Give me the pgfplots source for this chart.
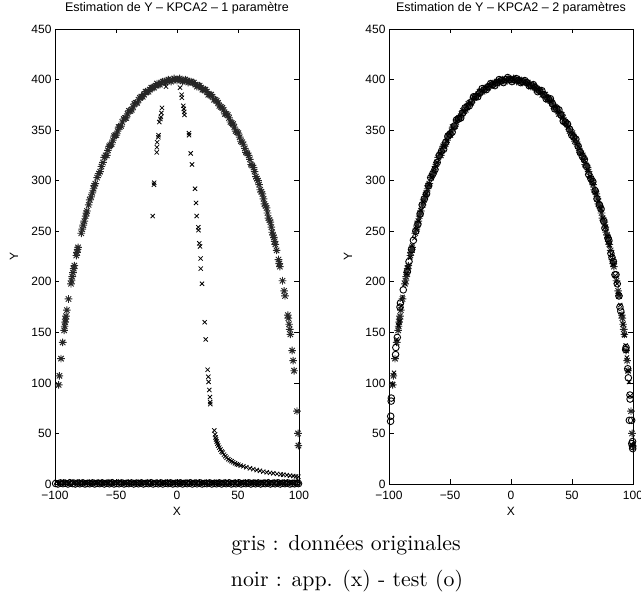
\documentclass[border=0pt]{standalone}
\usepackage{fontspec}
\usepackage{pgfplots}
\pgfplotsset{compat=1.18}
\usepackage{pgfplotstable}
\newfontfamily\hv{Liberation Sans}
\pgfdeclareplotmark{mstar}{%
 \pgfpathmoveto{\pgfqpoint{-\pgfplotmarksize}{0pt}}\pgfpathlineto{\pgfqpoint{\pgfplotmarksize}{0pt}}%
 \pgfpathmoveto{\pgfqpoint{0pt}{-\pgfplotmarksize}}\pgfpathlineto{\pgfqpoint{0pt}{\pgfplotmarksize}}%
 \pgfpathmoveto{\pgfqpoint{-.707\pgfplotmarksize}{-.707\pgfplotmarksize}}\pgfpathlineto{\pgfqpoint{.707\pgfplotmarksize}{.707\pgfplotmarksize}}%
 \pgfpathmoveto{\pgfqpoint{-.707\pgfplotmarksize}{.707\pgfplotmarksize}}\pgfpathlineto{\pgfqpoint{.707\pgfplotmarksize}{-.707\pgfplotmarksize}}%
 \pgfusepathqstroke}

\pgfplotstableread{
X Y
-96.95 98
-96.36 107
-95.07 124
-93.67 140
-92.50 152
-92.08 156
-91.65 160
-91.32 163
-90.98 166
-90.28 172
-88.92 183
-86.89 198
-86.46 201
-85.87 205
-85.26 209
-84.64 213
-84.17 216
-82.51 226
-81.99 229
-81.46 232
-81.10 234
-78.46 248
-77.66 252
-76.84 256
-75.99 260
-74.91 265
-74.24 268
-73.8 270
-72.38 276
-71.5 281
-70.42 284
-69.40 288
-68.34 292
-67.8 295
-66.98 297
-65.5 303
-64.10 307
-63.0 309
-61.95 314
-60.66 318
-59.6 323
-58.5 325
-57.5 325
-56.6 330
-55.6 334
-54.7 335
-53.6 336
-52.5 340
-51.5 344
-50.6 345
-49.7 345
-48.7 349
-47.8 353
-46.9 353
-45.9 354
-44.8 358
-43.7 361
-42.6 362
-41.6 362
-40.5 366
-39.4 369
-38.3 369
-37.1 370
-36.0 373
-34.9 376
-33.8 377
-32.6 377
-31.5 380
-30.4 382
-29.2 383
-28.1 383
-27.0 385
-25.8 388
-24.6 388
-23.4 388
-22.3 390
-21.1 392
-20.0 392
-18.8 392
-17.6 394
-16.4 396
-15.3 395
-14.1 395
-13.0 397
-11.8 398
-10.6 398
-9.4 397
-8.3 399
-7.1 400
-6.0 399
-4.8 398
-3.6 400
-2.4 401
-1.3 400
0.0 399
1.0 400
2.2 401
3.3 400
4.5 398
5.7 399
6.8 400
8.0 399
9.2 397
10.4 398
11.5 398
12.7 397
13.9 397
15.1 395
16.3 393
17.4 394
18.6 394
19.8 392
20.9 390
22.1 390
23.3 390
24.5 388
25.6 385
26.8 385
28.0 385
29.1 383
30.3 380
31.5 380
32.6 379
33.7 377
34.8 374
36.0 373
37.1 372
38.2 370
39.3 366
40.5 366
41.6 365
42.7 362
43.8 358
44.9 357
46.0 356
47.0 353
48.1 349
49.2 348
50.3 347
51.4 343
52.4 339
53.5 338
54.5 336
55.6 332
56.6 328
57.6 327
58.7 325
59.7 321
60.7 316
61.7 315
62.7 313
63.6 309
64.6 304
65.5 302
66.4 300
67.3 296
68.2 291
69.1 289
70.0 287
70.9 282
71.7 277
72.6 275
73.4 273
74.2 268
75.0 263
75.8 261
76.5 259
77.3 254
78.0 249
78.8 246
79.4 244
80.00 240
80.56 237
81.64 231
83.19 222
83.84 218
84.33 215
86.46 201
87.86 191
88.53 186
90.87 167
91.21 164
91.87 158
92.40 153
92.90 148
94.40 132
95.23 122
96.00 112
98.37 72
99.22 50
99.55 38
}\starsdata

\pgfplotstableread{
X Y
-19.9 265
-18.9 296
-18.7 298
-16.6 328
-16.5 333
-16.3 338
-15.3 343
-15.1 345
-14.5 358
-13.6 361
-13.2 363
-12.8 367
-12.3 372
-9.0 393
2.5 392
3.8 385
4.0 382
5.2 374
5.6 371
5.9 368
6.1 365
9.8 347
9.9 345
11.2 327
12.3 316
14.8 292
15.6 278
16.1 265
17.5 254
17.6 251
18.3 238
18.9 235
19.4 223
19.5 213
20.5 198
22.7 160
23.5 143
25.1 113
25.7 106
25.9 101
26.5 93
27.0 86
27.2 81
27.3 79
30.6 53
31.2 49
31.6 46
32.0 44
32.6 42
33.2 40
33.8 38
34.7 36
35.6 34
36.6 32
37.5 31
38.5 29
39.6 27.5
40.7 26
42.0 24.5
43.4 23.5
44.7 22.5
46.0 21.5
47.5 20.5
49.0 19.5
50.3 19
52.3 18.2
54.4 17.5
56.8 16.6
59.8 15.5
62.5 14.7
65.3 13.8
68.0 13
70.7 12.2
73.5 11.6
76.2 11
78.9 10.6
82.0 10
85.0 9.5
87.1 9.2
90.0 8.8
92.7 8.3
95.3 7.9
97.5 7.5
99.5 7.2
}\leftapp

\pgfplotstableread{
X Y
-96.9 99
-95.9 110
-93.6 143
-92.2 157
-91.3 161
-90.0 176
-88.9 185
-87.0 198
-85.6 208
-84.3 214
-82.6 224
-80.9 236
-79.2 243
-77.5 252
-75.7 260
-73.9 271
-71.8 279
-69.6 287
-67.4 296
-65.1 303
-62.8 312
-60.4 318
-57.9 327
-55.3 334
-52.7 339
-50.0 347
-47.3 352
-44.5 359
-41.7 364
-38.8 368
-35.9 374
-32.9 377
-29.9 382
-26.9 385
-23.8 389
-20.7 391
-17.6 394
-14.4 396
-11.3 398
-8.1 399
-4.9 400
-1.7 401
1.5 400
4.7 399
7.9 399
11.1 397
14.3 396
17.5 393
20.6 392
23.7 389
26.8 386
29.8 381
32.8 378
35.8 373
38.7 368
41.6 363
44.4 358
47.2 353
49.9 346
52.6 341
55.2 334
57.8 327
60.3 320
62.7 311
65.0 304
67.2 297
69.4 288
71.5 280
73.5 272
75.4 263
77.3 254
79.1 245
80.8 236
82.4 227
84.0 217
85.5 206
86.9 198
88.2 188
89.5 177
90.7 168
91.9 158
93.0 147
94.0 137
95.0 125
95.9 112
96.8 101
97.6 87
}\rightapp

\pgfplotstableread{
X Y
-98.7 62
-98.6 67
-98.2 82
-98.1 85
-94.6 128
-94.4 135
-93.2 145
-91.0 175
-90.6 179
-88.3 192
-85.0 210
-83.6 220
-81.5 232
-80.0 241
-78.0 250
-76.3 257
-74.5 267
-72.8 276
-71.0 282
-69.2 287
-67.5 295
-65.8 303
-64.0 307
-62.3 311
-60.5 318
-58.8 325
-57.0 329
-55.2 331
-53.5 338
-51.7 344
-50.0 346
-48.2 348
-46.5 354
-44.7 360
-43.0 361
-41.2 362
-39.5 367
-37.7 372
-36.0 373
-34.2 374
-32.5 378
-30.7 383
-29.0 383
-27.2 383
-25.5 387
-23.7 391
-22.0 390
-20.2 390
-18.5 393
-16.7 396
-15.0 395
-13.2 394
-11.5 397
-9.7 400
-8.0 399
-6.2 397
-4.5 400
-2.7 402
-1.0 400
0.8 398
2.5 400
4.3 401
6.0 399
7.8 397
9.5 398
11.3 399
13.0 397
14.8 394
16.5 394
18.3 395
20.0 392
21.8 388
23.5 389
25.3 389
27.0 385
28.8 381
30.5 381
32.3 381
34.0 376
35.8 371
37.5 371
39.3 370
41.0 365
42.8 359
44.5 358
46.3 356
48.0 351
49.8 345
51.5 343
53.2 341
55.0 334
56.7 328
58.5 324
60.2 321
62.0 314
63.7 306
65.5 302
67.1 299
69.0 290
70.5 282
72.5 276
73.8 272
76.0 260
77.0 253
79.5 243
80.2 241
81.9 228
82.8 224
83.9 220
85.2 207
86.1 207
87.1 198
88.5 186
89.3 175
90.0 171
94.0 133
94.3 135
95.7 114
96.2 105
97.0 63
97.5 88
97.6 84
98.9 63
99.0 40
99.7 37
99.75 35
99.65 42
}\righttest

\begin{document}
\begin{tikzpicture}
\pgfplotsset{mstyle/.style={
  scale only axis, width=244pt, height=455pt,
  xmin=-100, xmax=100, ymin=0, ymax=450,
  clip=false,
  tick align=inside, major tick length=4.5pt,
  axis line style={line width=0.6pt},
  every tick/.style={line width=0.6pt, black},
  xtick={-100,-50,0,50,100},
  xticklabels={−100,−50,0,50,100},
  ytick={0,50,100,150,200,250,300,350,400,450},
  yticklabels={0,50,100,150,200,250,300,350,400,450},
  tick label style={font=\hv\fontsize{12}{14}\selectfont},
  xticklabel style={yshift=-4pt},
  ylabel style={font=\hv\fontsize{12}{14}\selectfont, at={(axis description cs:-0.168,0.5)}, anchor=center},
  xlabel style={font=\hv\fontsize{12}{14}\selectfont, at={(axis description cs:0.5,-0.0593)}, anchor=center},
  title style={font=\hv\fontsize{12.5}{15}\selectfont, at={(axis description cs:0.5,1)}, anchor=base, yshift=11.7pt},
  xlabel={X}, ylabel={Y},
  starst/.style={only marks, mark=mstar, mark size=3.8pt, black!85, line width=0.95pt},
  appst/.style={only marks, mark=x, mark size=3pt, black, line width=0.8pt},
  testst/.style={only marks, mark=o, mark size=3.3pt, black, line width=0.9pt},
}}
\begin{axis}[mstyle, at={(55pt,121pt)}, anchor=south west,
  title={Estimation de Y – KPCA2 – 1 paramètre}]
\addplot[starst] table {\starsdata};
\addplot[appst] table {\leftapp};
\addplot[testst] coordinates {(-99.5,0.5) (-97.6,0) (-95.4,1) (-93.5,0.3) (-91.6,0.8) (-89.4,0) (-87.5,1.1) (-85.6,0.4) (-83.4,0) (-81.5,0.9) (-79.6,0.2) (-77.5,1) (-75.4,0) (-73.6,0.6) (-71.5,0.2) (-69.4,1) (-67.5,0) (-65.6,0.7) (-63.4,0.3) (-61.5,1) (-59.6,0) (-57.5,0.8) (-55.4,0.2) (-53.5,1.1) (-51.6,0) (-49.4,0.6) (-47.5,0.2) (-45.6,1) (-43.4,0) (-41.5,0.7) (-39.6,0.3) (-37.5,1) (-35.4,0) (-33.5,0.8) (-31.6,0.2) (-29.4,1) (-27.5,0) (-25.6,0.6) (-23.4,0.3) (-21.5,1.1) (-19.6,0) (-17.5,0.7) (-15.4,0.2) (-13.5,1) (-11.6,0) (-9.4,0.8) (-7.5,0.3) (-5.6,1) (-3.4,0) (-1.5,0.6) (0.4,0.2) (2.5,1) (4.6,0) (6.5,0.7) (8.4,0.3) (10.5,1) (12.6,0) (14.5,0.8) (16.4,0.2) (18.5,1.1) (20.6,0) (22.5,0.6) (24.4,0.3) (26.5,1) (28.6,0) (30.5,0.7) (32.4,0.2) (34.5,1) (36.6,0) (38.5,0.8) (40.4,0.3) (42.5,1) (44.6,0) (46.5,0.6) (48.4,0.2) (50.5,1.1) (52.6,0) (54.5,0.7) (56.4,0.3) (58.5,1) (60.6,0) (62.5,0.8) (64.4,0.2) (66.5,1) (68.6,0) (70.5,0.6) (72.4,0.3) (74.5,1) (76.6,0) (78.5,0.7) (80.4,0.2) (82.5,1.1) (84.6,0) (86.5,0.8) (88.4,0.3) (90.5,1) (92.6,0) (94.5,0.6) (96.4,0.2) (98.5,1) (99.6,0.4)};
\addplot[appst] coordinates {(-98.6,2) (-96.5,1.5) (-94.4,2.5) (-92.5,1.8) (-90.4,2.2) (-88.5,1.4) (-86.6,2.6) (-84.4,1.9) (-82.5,2.3) (-80.6,1.5) (-78.4,2.4) (-76.5,1.7) (-74.6,2.1) (-72.4,1.4) (-70.5,2.5) (-68.6,1.8) (-66.4,2.2) (-64.5,1.6) (-62.6,2.4) (-60.4,1.9) (-58.5,2.1) (-56.6,1.5) (-54.4,2.6) (-52.5,1.8) (-50.6,2.2) (-48.4,1.4) (-46.5,2.4) (-44.6,1.7) (-42.4,2.1) (-40.5,1.5) (-38.6,2.5) (-36.4,1.8) (-34.5,2.2) (-32.6,1.6) (-30.4,2.4) (-28.5,1.9) (-26.6,2.1) (-24.4,1.5) (-22.5,2.6) (-20.6,1.8) (-18.4,2.2) (-16.5,1.4) (-14.6,2.4) (-12.4,1.7) (-10.5,2.1) (-8.6,1.5) (-6.4,2.5) (-4.5,1.8) (-2.6,2.2) (-0.4,1.6) (1.5,2.4) (3.6,1.9) (5.4,2.1) (7.5,1.5) (9.6,2.6) (11.4,1.8) (13.5,2.2) (15.6,1.4) (17.4,2.4) (19.5,1.7) (21.6,2.1) (23.4,1.5) (25.5,2.5) (27.6,1.8) (29.4,2.2) (31.5,1.6) (33.6,2.4) (35.4,1.9) (37.5,2.1) (39.6,1.5) (41.4,2.6) (43.5,1.8) (45.6,2.2) (47.4,1.4) (49.5,2.4) (51.6,1.7) (53.4,2.1) (55.5,1.5) (57.6,2.5) (59.4,1.8) (61.5,2.2) (63.6,1.6) (65.4,2.4) (67.5,1.9) (69.6,2.1) (71.4,1.5) (73.5,2.6) (75.6,1.8) (77.4,2.2) (79.5,1.4) (81.6,2.4) (83.4,1.7) (85.5,2.1) (87.6,1.5) (89.4,2.5) (91.5,1.8) (93.6,2.2) (95.4,1.6) (97.5,2.4) (99.4,1.9)};
\end{axis}
\begin{axis}[mstyle, at={(389pt,121pt)}, anchor=south west,
  title={Estimation de Y – KPCA2 – 2 paramètres}]
\addplot[starst] table {\starsdata};
\addplot[appst] table {\rightapp};
\addplot[testst] table {\righttest};
\end{axis}
\node[scale=2.18, anchor=base] at (346pt,54pt) {gris : données originales};
\node[scale=2.18, anchor=base] at (347pt,18pt) {noir : app. (x) - test (o)};
\pgfresetboundingbox
\path[use as bounding box] (0pt,0pt) rectangle (641pt,605pt);
\end{tikzpicture}
\end{document}
